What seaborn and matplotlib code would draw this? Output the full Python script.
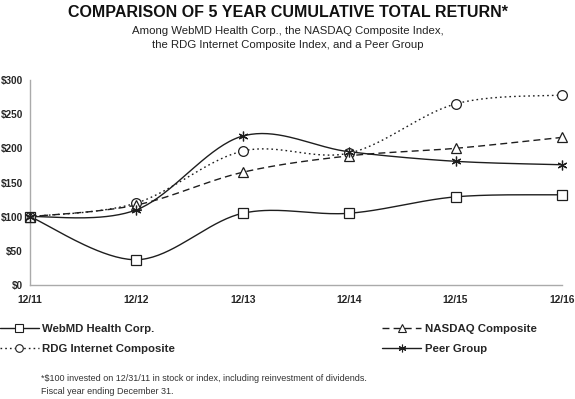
import numpy as np
import matplotlib
matplotlib.use("Agg")
import matplotlib.pyplot as plt
from matplotlib.lines import Line2D
import seaborn as sns

# data
years = ["12/11", "12/12", "12/13", "12/14", "12/15", "12/16"]
webmd = [100, 37, 105, 105, 129, 132]
nasdaq = [100, 117, 165, 189, 200, 216]
rdg = [100, 120, 196, 193, 265, 278]
peer = [100, 110, 218, 195, 181, 176]

sns.set_style("white")
plt.rcParams["font.family"] = ["Liberation Sans", "DejaVu Sans"]

INK = "#1e1e1e"


def smooth(ys, n=40):
    """Excel style smoothed line (Catmull-Rom as cubic Bezier)"""
    xs = np.arange(len(ys), dtype=float)
    ys = np.asarray(ys, dtype=float)
    px, py = [], []
    for i in range(len(ys) - 1):
        i0, i3 = max(i - 1, 0), min(i + 2, len(ys) - 1)
        p0 = np.array([xs[i], ys[i]])
        p3 = np.array([xs[i + 1], ys[i + 1]])
        c1 = p0 + (p3 - np.array([xs[i0], ys[i0]])) / 6
        c2 = p3 - (np.array([xs[i3], ys[i3]]) - p0) / 6
        t = np.linspace(0, 1, n)[:, None]
        pts = ((1 - t) ** 3) * p0 + 3 * ((1 - t) ** 2) * t * c1 + 3 * (1 - t) * t ** 2 * c2 + t ** 3 * p3
        px.extend(pts[:, 0])
        py.extend(pts[:, 1])
    return np.array(px), np.array(py)


series = [
    ("WebMD Health Corp.", webmd, "-", "s"),
    ("RDG Internet Composite", rdg, (0, (1.2, 2.2)), "o"),
    ("NASDAQ Composite", nasdaq, (0, (5, 3)), "^"),
    ("Peer Group", peer, "-", (6, 2, 0)),
]

fig = plt.figure(figsize=(5.75, 3.99), dpi=100)
ax = fig.add_axes([0.0522, 0.2857, 0.925, 0.5138])

handles = []
for name, vals, ls, mk in series:
    sx, sy = smooth(vals)
    sns.lineplot(x=sx, y=sy, ax=ax, color=INK, lw=1.0, sort=False, estimator=None)
    ax.lines[-1].set_linestyle(ls)
    ax.plot(range(len(vals)), vals, linestyle="none", marker=mk, ms=7,
            mfc="white", mec=INK, mew=0.9, zorder=5, clip_on=False)
    handles.append(Line2D([], [], color=INK, lw=1.0, linestyle=ls, marker=mk, ms=5.5,
                          mfc="white", mec=INK, mew=0.8, label=name))

ax.set_xlim(0, len(years) - 1)
ax.set_ylim(0, 300)
ax.set_xticks(range(len(years)))
ax.set_xticklabels(years)
ax.set_yticks(range(0, 301, 50))
ax.set_yticklabels([f"${v}" for v in range(0, 301, 50)])
ax.tick_params(axis="y", labelsize=7.2, length=3, color="#999999", pad=2)
ax.tick_params(axis="x", labelsize=7.4, length=3, color="#999999", pad=4)
for lab in ax.get_xticklabels() + ax.get_yticklabels():
    lab.set_fontweight("bold")
for s in ["top", "right"]:
    ax.spines[s].set_visible(False)
for s in ["left", "bottom"]:
    ax.spines[s].set_color("#aaaaaa")
    ax.spines[s].set_linewidth(1.0)
ax.set_xlabel("")
ax.set_ylabel("")

fig.text(0.5, 0.968, "COMPARISON OF 5 YEAR CUMULATIVE TOTAL RETURN*",
         ha="center", va="center", fontsize=11.5, fontweight="bold", color="#111111")
fig.text(0.5, 0.936, "Among WebMD Health Corp., the NASDAQ Composite Index,\n"
         "the RDG Internet Composite Index, and a Peer Group",
         ha="center", va="top", fontsize=8.2, linespacing=1.5, color="#222222")

# legend: left and right blocks
leg_kw = dict(loc="upper left", frameon=False, handlelength=3.4, handletextpad=0.3,
              labelspacing=0.85, borderpad=0, borderaxespad=0,
              prop={"weight": "bold", "size": 8.2})
fig.legend(handles=handles[:2], bbox_to_anchor=(0.0, 0.188), **leg_kw)
fig.legend(handles=handles[2:], bbox_to_anchor=(0.665, 0.188), **leg_kw)

fig.text(0.072, 0.035, "*$100 invested on 12/31/11 in stock or index, including reinvestment of dividends.\n"
         "Fiscal year ending December 31.", ha="left", va="center", fontsize=6.5,
         linespacing=1.6, color="#333333")

fig.savefig("out.png", dpi=100)
